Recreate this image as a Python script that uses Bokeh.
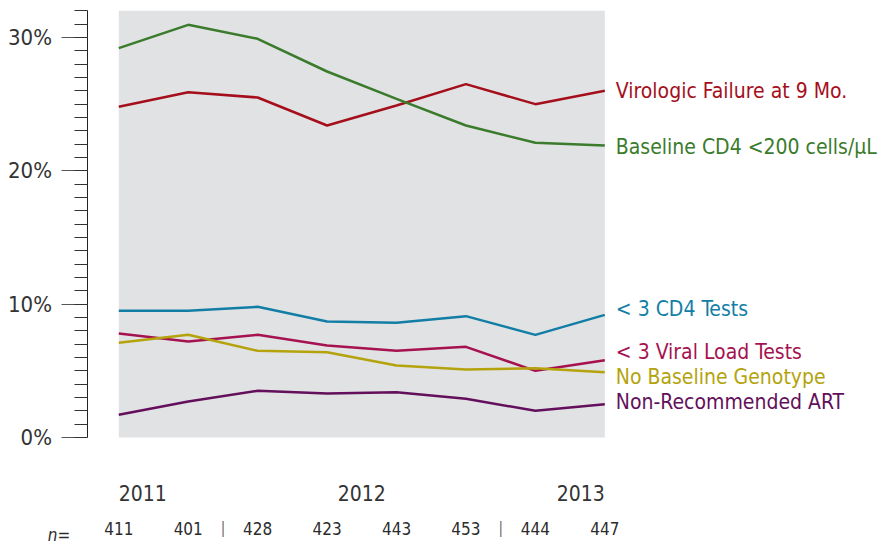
from bokeh.plotting import figure
from bokeh.models import (Range1d, FixedTicker, PrintfTickFormatter, BoxAnnotation,
                          Label, LabelSet, ColumnDataSource)
from bokeh.core.properties import value
from bokeh.embed import file_html
from bokeh.resources import INLINE

# ---------------- data ----------------
n_counts = ["411", "401", "428", "423", "443", "453", "444", "447"]
years = ["2011", "2012", "2013"]
series_names = ["Virologic Failure at 9 Mo.", "Baseline CD4 <200 cells/µL", "< 3 CD4 Tests",
                "< 3 Viral Load Tests", "No Baseline Genotype", "Non-Recommended ART"]
virologic_failure = [24.8, 25.9, 25.5, 23.4, 24.9, 26.5, 25.0, 26.0]
baseline_cd4_200 = [29.2, 30.95, 29.9, 27.45, 25.4, 23.4, 22.1, 21.9]
lt3_cd4_tests = [9.5, 9.5, 9.8, 8.7, 8.6, 9.1, 7.7, 9.2]
lt3_vl_tests = [7.8, 7.2, 7.7, 6.9, 6.5, 6.8, 5.0, 5.8]
no_baseline_geno = [7.1, 7.7, 6.5, 6.4, 5.4, 5.1, 5.2, 4.9]
non_recommended_art = [1.7, 2.7, 3.5, 3.3, 3.4, 2.9, 2.0, 2.5]
y_ticks = [0, 10, 20, 30]
y_max = 32

# ---------------- layout / style ----------------
FONT = "DejaVu Sans Condensed"
TEXT = "#2b2b2b"
colors = ["#a50f1c", "#3a7b2c", "#127ea6", "#a6124f", "#b4a30c", "#630f5b"]
label_y = [25.49, 21.3, 9.1, 5.88, 4.02, 2.13]   # baseline positions of right-hand labels
year_x = [0, 3.5, 7]
year_align = ["left", "center", "right"]
year_row_y = -4.14
n_row_y = -7.29
sep_row_y = -6.8
separators = [1.5, 5.5]
axis_x = -0.458

xs = list(range(len(n_counts)))
series = [virologic_failure, baseline_cd4_200, lt3_cd4_tests, lt3_vl_tests,
          no_baseline_geno, non_recommended_art]

p = figure(width=878, height=544, output_backend="svg", toolbar_location=None,
           x_axis_location=None, y_axis_location="left",
           x_range=Range1d(-1.7039, 10.942), y_range=Range1d(-8.025, 32.775))
p.min_border_left = 0
p.min_border_right = 0
p.min_border_top = 0
p.min_border_bottom = 0
p.outline_line_color = None
p.grid.visible = False
p.background_fill_color = "white"
p.border_fill_color = "white"

# grey panel and year separators
p.add_layout(BoxAnnotation(left=0, right=len(xs) - 1, bottom=0, top=y_max, fill_color="#e1e2e4",
                           fill_alpha=1, line_alpha=0, level="underlay"))
p.segment(x0=separators, y0=[0] * len(separators), x1=separators, y1=[y_max] * len(separators),
          line_color="white", line_width=1.5, level="underlay")

# y axis
ax = p.yaxis[0]
ax.fixed_location = axis_x
ax.bounds = (0, y_max)
ax.ticker = FixedTicker(ticks=y_ticks, minor_ticks=list(range(0, y_max + 1)))
ax.formatter = PrintfTickFormatter(format="%d%%")
ax.axis_line_color = "#222222"
ax.axis_line_width = 1
ax.major_tick_out = 26
ax.major_tick_in = 0
ax.major_tick_line_color = "#555555"
ax.minor_tick_out = 13
ax.minor_tick_in = 0
ax.minor_tick_line_color = "#333333"
ax.major_label_standoff = 9
ax.major_label_text_font = FONT
ax.major_label_text_font_size = "22px"
ax.major_label_text_color = "#333333"

# lines
for vals, c in zip(series, colors):
    p.line(xs, vals, line_color=c, line_width=2.5)

# right-hand labels
lab_src = ColumnDataSource(dict(x=[xs[-1]] * len(series_names), y=label_y, text=series_names,
                                color=colors))
p.add_layout(LabelSet(x="x", y="y", text="text", source=lab_src, x_offset=11,
                      text_color="color", text_font=value(FONT), text_font_size=value("21px"),
                      text_font_style=value("normal"),
                      text_baseline="alphabetic", text_align="left"))

# year labels
for yr, xp, al in zip(years, year_x, year_align):
    p.add_layout(Label(x=xp, y=year_row_y, text=yr, text_align=al, text_baseline="alphabetic",
                       text_font=FONT, text_font_size="21px", text_font_style="normal",
                       text_color="#333333"))

# n row
n_src = ColumnDataSource(dict(x=xs, y=[n_row_y] * len(xs), text=n_counts))
p.add_layout(LabelSet(x="x", y="y", text="text", source=n_src, text_align="center",
                      text_baseline="alphabetic", text_font=value(FONT),
                      text_font_size=value("17px"), text_font_style=value("normal"),
                      text_color=TEXT))
p.add_layout(Label(x=0, y=n_row_y, x_offset=-71, text="n=", text_align="left",
                   text_baseline="alphabetic", text_font=FONT, text_font_size="17px",
                   text_font_style="italic", text_color=TEXT))
for s in separators:
    p.add_layout(Label(x=s, y=sep_row_y, text="|", text_align="center", text_baseline="alphabetic",
                       text_font=FONT, text_font_size="15px", text_font_style="normal",
                       text_color="#666666"))

open("out.html", "w").write(file_html(p, INLINE))
